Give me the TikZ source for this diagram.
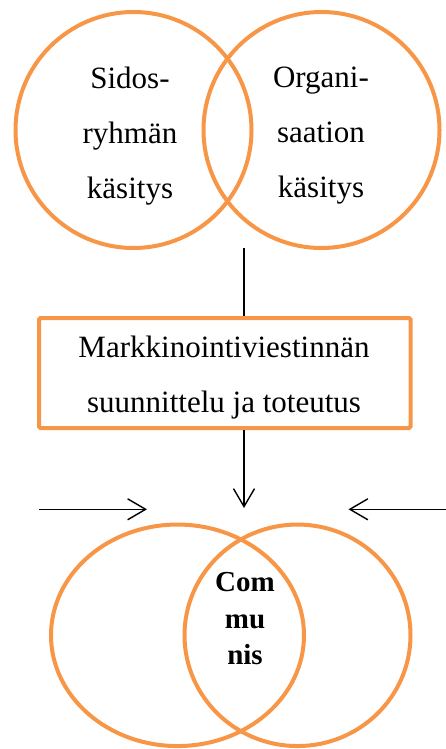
\documentclass[tikz,border=0pt]{standalone}
\usepackage{fontspec}
\setmainfont{Liberation Serif}
\usetikzlibrary{arrows.meta,shapes.geometric}
\definecolor{oranssi}{RGB}{247,150,70}

\begin{document}
\begin{tikzpicture}[x=1pt,y=-1pt,
    ring/.style={draw=oranssi,line width=4pt,circle,minimum size=236pt,inner sep=0pt},
    soikio/.style={draw=oranssi,line width=4pt,ellipse,inner sep=0pt,minimum height=221.5pt},
    laatikko/.style={draw=oranssi,line width=4pt,rounded corners=1.5pt,inner sep=0pt,
      minimum width=371.5pt,minimum height=110pt},
    teksti/.style={align=center,inner sep=0pt,font=\fontsize{31}{55}\selectfont},
    viiva/.style={line width=1.4pt},
    nuoli/.style={line width=1.4pt,-{Straight Barb[length=18pt,width=21pt]}}]
  \useasboundingbox (0,0) rectangle (446,749);
  % ylhaan: kaksi kasitysta
  \node[ring] (sidos) at (133.5,130) {};
  \node[ring] (organisaatio) at (321.5,130) {};
  \node[teksti] (sidosteksti) at (130,136) {Sidos-\\ryhmän\\käsitys};
  \node[teksti] (organisaatioteksti) at (321,136) {Organi-\\saation\\käsitys};
  % keskella: suunnittelu
  \node[laatikko] (suunnittelu) at (224.75,373) {};
  \node[teksti] (suunnitteluteksti) at (224,378)
    {Markkinointiviestinnän\\suunnittelu ja toteutus};
  % alhaalla: communis
  \node[soikio,minimum width=253pt] (vasensoikio) at (177.5,635.3) {};
  \node[soikio,minimum width=226pt] (oikeasoikio) at (297.5,635.3) {};
  \node[align=center,inner sep=0pt,font=\fontsize{29}{36.5}\selectfont\bfseries]
    (communis) at (245,619) {Com\\mu\\nis};
  \coordinate (ylapaa) at (244,248);
  \coordinate (alapaa) at (244,508);
  \coordinate (vasenalku) at (39,509.3);
  \coordinate (vasenloppu) at (147,509.3);
  \coordinate (oikeaalku) at (450,509.3);
  \coordinate (oikealoppu) at (348.5,509.3);
  \begin{scope}[viiva]
    \draw (ylapaa) -- (ylapaa |- suunnittelu.north);
    \draw[nuoli] (alapaa |- suunnittelu.south) -- (alapaa);
    \draw[nuoli] (vasenalku) -- (vasenloppu);
    \draw[nuoli] (oikeaalku) -- (oikealoppu);
  \end{scope}
\end{tikzpicture}
\end{document}
